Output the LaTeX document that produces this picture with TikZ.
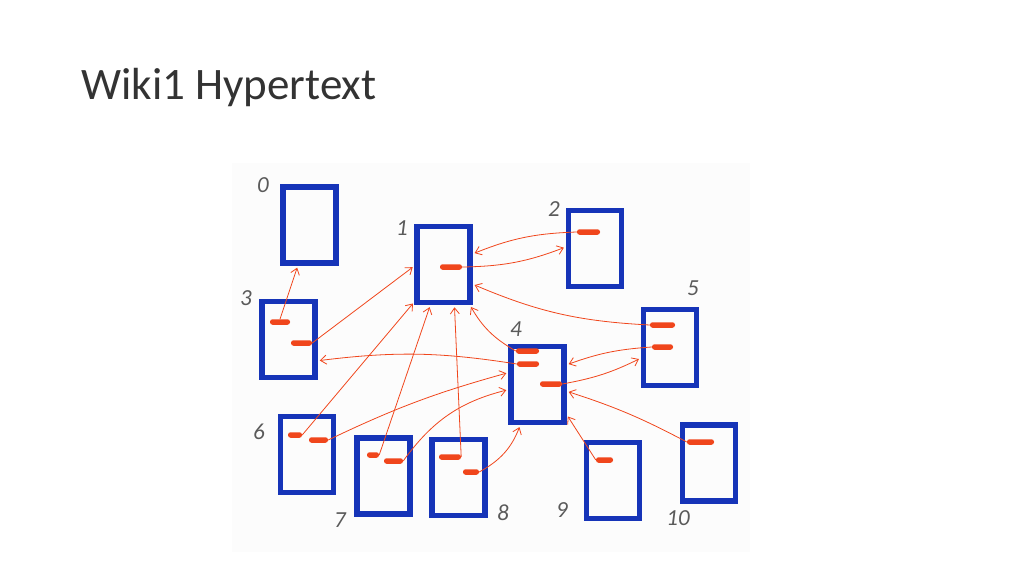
\documentclass[tikz,border=0pt]{standalone}
\usepackage{fontspec}
\setmainfont{Carlito}
\usetikzlibrary{arrows.meta}
\definecolor{pageblue}{HTML}{1634B8}
\definecolor{linkred}{HTML}{F0461C}
\definecolor{photo}{HTML}{FCFCFC}
\definecolor{pencil}{HTML}{5A5A5A}

\begin{document}
\begin{tikzpicture}[x=1pt,y=-1pt]
 \tikzset{
  page/.style={draw=pageblue,line width=5.5pt,minimum width=53pt,minimum height=76pt,inner sep=0pt},
  link/.style={fill=linkred,minimum height=5.5pt,inner sep=0pt,rounded corners=2.5pt},
  num/.style={text=pencil,inner sep=0pt,font=\fontsize{23}{23}\selectfont\itshape},
  href/.style={draw=linkred,line width=0.8pt,-{Straight Barb[length=6pt,width=9pt]},shorten >=2pt}}
 \useasboundingbox (0,0) rectangle (1024,576);
 \fill[photo] (232,163) rectangle (750,552);
 \node[anchor=base west,inner sep=0pt,text=black!80,font=\fontsize{45}{45}\selectfont] (title) at (81,99) {Wiki1 Hypertext};
 % pages
 \node[page] (p0) at (309.5,225) {};
 \node[page] (p1) at (443.5,264.5) {};
 \node[page] (p2) at (595,248.5) {};
 \node[page] (p3) at (288.5,339.5) {};
 \node[page] (p4) at (537.5,384.5) {};
 \node[page] (p5) at (670,347.5) {};
 \node[page] (p6) at (307,454.5) {};
 \node[page] (p7) at (383.5,476) {};
 \node[page] (p8) at (458.5,477.5) {};
 \node[page] (p9) at (613,480.5) {};
 \node[page] (p10) at (709,463) {};
 \node[num] (n0) at (263,185) {0};
 \node[num] (n1) at (402,228) {1};
 \node[num] (n2) at (554,209) {2};
 \node[num] (n3) at (246,298) {3};
 \node[num] (n4) at (516,329) {4};
 \node[num] (n5) at (693,288) {5};
 \node[num] (n6) at (259,432) {6};
 \node[num] (n7) at (340,520) {7};
 \node[num] (n8) at (503,513) {8};
 \node[num] (n9) at (562,510) {9};
 \node[num] (n10) at (678,518) {10};
 % links
 \node[link,minimum width=22pt] (l1) at (451,267) {};
 \node[link,minimum width=23pt] (l2) at (588.5,232) {};
 \node[link,minimum width=20pt] (l3a) at (280,322) {};
 \node[link,minimum width=21pt] (l3b) at (301.5,343) {};
 \node[link,minimum width=23pt] (l4a) at (527.5,351) {};
 \node[link,minimum width=22pt] (l4b) at (528,364) {};
 \node[link,minimum width=22pt] (l4c) at (551,384) {};
 \node[link,minimum width=25pt] (l5a) at (662.5,325) {};
 \node[link,minimum width=21pt] (l5b) at (662.5,347) {};
 \node[link,minimum width=14pt] (l6a) at (295,435) {};
 \node[link,minimum width=19pt] (l6b) at (318.5,440) {};
 \node[link,minimum width=12pt] (l7a) at (373,455) {};
 \node[link,minimum width=19pt] (l7b) at (393.5,461) {};
 \node[link,minimum width=22pt] (l8a) at (450,457) {};
 \node[link,minimum width=16pt] (l8b) at (471,472) {};
 \node[link,minimum width=17pt] (l9) at (604.5,460) {};
 \node[link,minimum width=27pt] (l10) at (700.5,442) {};
 % hyperlinks
 \draw[href] (l3a.north) -- (p0.254);
 \draw[href] (l3b.east) -- (p1.183);
 \draw[href] (l1.east) to[bend right=10] (p2.177);
 \draw[href] (l2.west) to[bend right=10] (p1.20);
 \draw[href] (l5a.west) to[bend left=10] (p1.-34);
 \draw[href] (l4a.west) to[bend left=15] (p1.-57);
 \draw[href] (l4b.west) to[bend right=8] (p3.-36);
 \draw[href] (l5b.west) to[bend right=8] (p4.34);
 \draw[href] (l4c.east) to[bend right=8] (p5.200);
 \draw[href] (l10.west) to[bend right=5] (p4.-13);
 \draw[href] (l9.west) -- (p4.-46);
 \draw[href] (l6a.east) -- (p1.232);
 \draw[href] (l7a.east) -- (p1.252);
 \draw[href] (l8a.east) -- (p1.285);
 \draw[href] (l6b.east) to[bend left=5] (p4.158);
 \draw[href] (l7b.east) to[bend left=20] (p4.190);
 \draw[href] (l8b.east) to[bend right=20] (p4.247);
\end{tikzpicture}
\end{document}
